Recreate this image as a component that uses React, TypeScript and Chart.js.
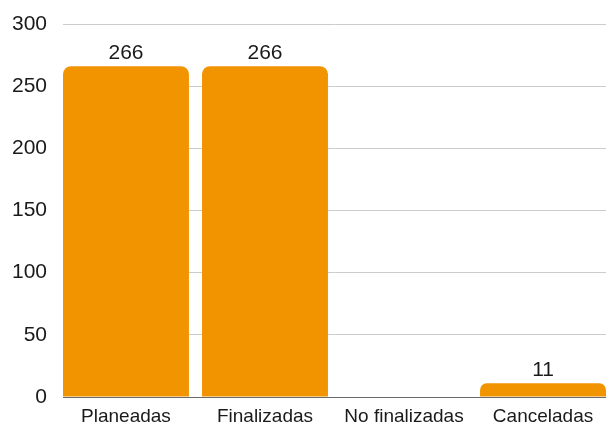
import React, { useEffect, useRef } from "react";
import { Chart, registerables } from "chart.js";

Chart.register(...registerables);

const categories = ["Planeadas", "Finalizadas", "No finalizadas", "Canceladas"];
const values = [266, 266, 0, 11];
const yTicks = [0, 50, 100, 150, 200, 250, 300];

const BAR_COLOR = "#F29400";
const FONT = "'Liberation Sans', Arial, sans-serif";

const valueLabels = {
  id: "valueLabels",
  afterDatasetsDraw(chart: any) {
    const ctx = chart.ctx;
    const meta = chart.getDatasetMeta(0);
    ctx.save();
    ctx.font = `21px ${FONT}`;
    ctx.fillStyle = "#1a1a1a";
    ctx.textAlign = "center";
    ctx.textBaseline = "alphabetic";
    meta.data.forEach((bar: any, i: number) => {
      const v = values[i];
      if (!v) return;
      ctx.fillText(String(v), bar.x, bar.y - 7);
    });
    ctx.restore();
  },
};

export default function App() {
  const ref = useRef<HTMLCanvasElement>(null);
  useEffect(() => {
    document.body.style.margin = "0";
    const chart = new Chart(ref.current!, {
      type: "bar",
      data: {
        datasets: [
          {
            data: values.map((v, i) => ({ x: i, y: v })),
            backgroundColor: BAR_COLOR,
            borderRadius: 8,
            borderSkipped: "start",
            barPercentage: 0.906,
            categoryPercentage: 1,
          },
        ],
      },
      options: {
        animation: false,
        responsive: false,
        maintainAspectRatio: false,
        layout: { padding: { top: 24, right: 0, left: 0, bottom: 0 } },
        plugins: { legend: { display: false }, tooltip: { enabled: false } },
        scales: {
          x: {
            type: "linear",
            offset: false,
            min: -0.453,
            max: 3.453,
            grid: { display: false, drawTicks: false, offset: false },
            border: { display: true, color: "#6b6b6b", width: 1 },
            afterBuildTicks: (scale: any) => {
              scale.ticks = categories.map((_, i) => ({ value: i }));
            },
            afterFit: (scale: any) => {
              scale.height = 26;
              scale.paddingLeft = 0;
              scale.paddingRight = 0;
            },
            ticks: {
              autoSkip: false,
              maxRotation: 0,
              padding: 8,
              color: "#1a1a1a",
              font: { family: FONT, size: 19 },
              callback: (v: any) => categories[Math.round(Number(v))] ?? "",
            },
          },
          y: {
            min: 0,
            max: 300,
            afterBuildTicks: (scale: any) => {
              scale.ticks = yTicks.map((v) => ({ value: v }));
            },
            afterFit: (scale: any) => {
              scale.width = 63;
              scale.paddingTop = 0;
              scale.paddingBottom = 0;
            },
            grid: {
              drawTicks: false,
              color: (c: any) => (c.tick && c.tick.value === 0 ? "#6b6b6b" : "#cccccc"),
            },
            border: { display: false },
            ticks: {
              padding: 16,
              color: "#1a1a1a",
              font: { family: FONT, size: 21 },
            },
          },
        },
      },
      plugins: [valueLabels],
    });
    return () => chart.destroy();
  }, []);
  return (
    <div style={{ width: 606, height: 423 }}>
      <canvas ref={ref} width={606} height={423} style={{ display: "block" }} />
    </div>
  );
}
